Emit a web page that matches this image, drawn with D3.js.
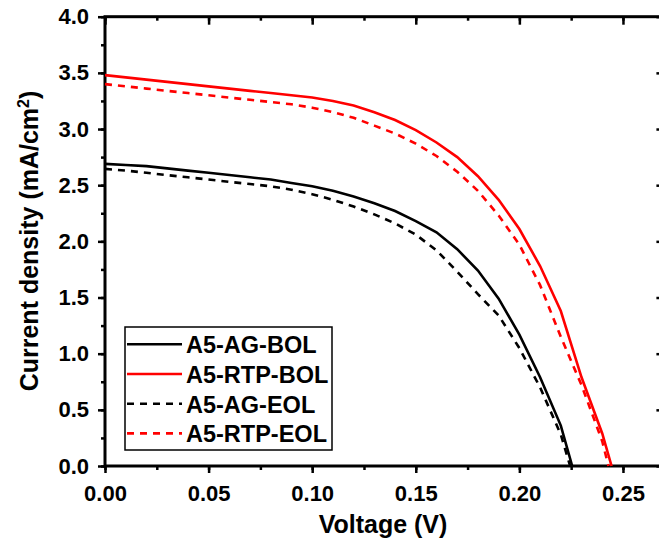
<!DOCTYPE html>
<html>
<head>
<meta charset="utf-8">
<script src="https://cdn.jsdelivr.net/npm/d3@7"></script>
<style>
  body { margin: 0; background: #fff; }
  svg { display: block; font-family: "Liberation Sans", Arial, sans-serif; font-weight: bold; }
</style>
</head>
<body>
<svg id="chart" width="659" height="548"></svg>
<script>
// voltage steps (V)
var voltage = [0, 0.01, 0.02, 0.03, 0.04, 0.05, 0.06, 0.07, 0.08, 0.09, 0.10, 0.11, 0.12,
               0.13, 0.14, 0.15, 0.16, 0.17, 0.18, 0.19, 0.20, 0.21, 0.22];

// current density (mA/cm2)
var agBol  = [2.69, 2.68, 2.67, 2.65, 2.63, 2.61, 2.59, 2.57, 2.55, 2.52, 2.49, 2.45, 2.40,
              2.34, 2.27, 2.18, 2.08, 1.93, 1.74, 1.49, 1.17, 0.79, 0.36];
var rtpBol = [3.48, 3.46, 3.44, 3.42, 3.40, 3.38, 3.36, 3.34, 3.32, 3.30, 3.28, 3.25, 3.21,
              3.15, 3.08, 2.99, 2.88, 2.75, 2.58, 2.37, 2.11, 1.78, 1.38];
var agEol  = [2.645, 2.63, 2.61, 2.59, 2.57, 2.55, 2.53, 2.51, 2.49, 2.46, 2.42, 2.37, 2.31,
              2.24, 2.16, 2.06, 1.92, 1.73, 1.53, 1.34, 1.05, 0.70, 0.28];
var rtpEol = [3.40, 3.38, 3.36, 3.34, 3.32, 3.30, 3.28, 3.26, 3.24, 3.22, 3.19, 3.15, 3.10,
              3.03, 2.96, 2.87, 2.76, 2.62, 2.45, 2.23, 1.97, 1.61, 1.15];

// tails near open circuit voltage
var agBolTail  = [[0.2255, 0]];
var rtpBolTail = [[0.23, 0.79], [0.24, 0.29], [0.2445, 0]];
var agEolTail  = [[0.2245, 0]];
var rtpEolTail = [[0.23, 0.72], [0.24, 0.22], [0.243, 0]];

var xTicks = [0, 0.05, 0.10, 0.15, 0.20, 0.25];
var yTicks = [0, 0.5, 1.0, 1.5, 2.0, 2.5, 3.0, 3.5, 4.0];

(function() {
  function pts(vals, tail) {
    return vals.map(function(v, i) { return [voltage[i], v]; }).concat(tail);
  }

  var series = [
    { name: 'A5-AG-BOL',  color: '#000', dash: null,  data: pts(agBol, agBolTail) },
    { name: 'A5-RTP-BOL', color: '#f00', dash: null,  data: pts(rtpBol, rtpBolTail) },
    { name: 'A5-AG-EOL',  color: '#000', dash: '7,6', data: pts(agEol, agEolTail) },
    { name: 'A5-RTP-EOL', color: '#f00', dash: '7,6', data: pts(rtpEol, rtpEolTail) }
  ];

  var svg = d3.select('#chart');
  var mLeft = 105, mRight = 664.4, mTop = 16.7, mBottom = 466;

  var x = d3.scaleLinear().domain([0, 0.27]).range([mLeft, mRight]);
  var y = d3.scaleLinear().domain([0, 4]).range([mBottom, mTop]);

  var minorX = d3.range(0, 0.2701, 0.025);
  var minorY = d3.range(0, 4.01, 0.25);

  function styleAxis(g) {
    g.selectAll('.domain').remove();
    g.selectAll('line').attr('stroke', '#000').attr('stroke-width', 2.5);
    g.selectAll('text').attr('fill', '#000').style('font-size', '22px').style('font-weight', 'bold');
  }

  // minor ticks
  svg.append('g').attr('transform', 'translate(0,' + mBottom + ')')
    .call(d3.axisBottom(x).tickValues(minorX).tickSize(4).tickFormat(''))
    .call(styleAxis);
  svg.append('g').attr('transform', 'translate(0,' + mTop + ')')
    .call(d3.axisBottom(x).tickValues(minorX).tickSize(4).tickFormat(''))
    .call(styleAxis);
  svg.append('g').attr('transform', 'translate(' + mLeft + ',0)')
    .call(d3.axisLeft(y).tickValues(minorY).tickSize(4).tickFormat(''))
    .call(styleAxis);
  svg.append('g').attr('transform', 'translate(' + mRight + ',0)')
    .call(d3.axisLeft(y).tickValues(minorY).tickSize(4).tickFormat(''))
    .call(styleAxis);

  // major ticks
  svg.append('g').attr('transform', 'translate(0,' + mBottom + ')')
    .call(d3.axisBottom(x).tickValues(xTicks).tickSize(7).tickPadding(12).tickFormat(d3.format('.2f')))
    .call(styleAxis);
  svg.append('g').attr('transform', 'translate(0,' + mTop + ')')
    .call(d3.axisBottom(x).tickValues(xTicks).tickSize(8).tickFormat(''))
    .call(styleAxis);
  svg.append('g').attr('transform', 'translate(' + mLeft + ',0)')
    .call(d3.axisLeft(y).tickValues(yTicks).tickSize(7).tickPadding(9).tickFormat(d3.format('.1f')))
    .call(styleAxis);
  svg.append('g').attr('transform', 'translate(' + mRight + ',0)')
    .call(d3.axisLeft(y).tickValues(yTicks).tickSize(8).tickFormat(''))
    .call(styleAxis);

  // frame
  svg.append('rect')
    .attr('x', mLeft).attr('y', mTop)
    .attr('width', mRight - mLeft).attr('height', mBottom - mTop)
    .attr('fill', 'none').attr('stroke', '#000').attr('stroke-width', 3);

  // curves
  var line = d3.line()
    .x(function(d) { return x(d[0]); })
    .y(function(d) { return y(d[1]); });

  var plot = svg.append('g');
  series.forEach(function(s) {
    plot.append('path')
      .datum(s.data)
      .attr('d', line)
      .attr('fill', 'none')
      .attr('stroke', s.color)
      .attr('stroke-width', 2.6)
      .attr('stroke-dasharray', s.dash);
  });

  // axis titles
  svg.append('text')
    .attr('x', 383).attr('y', 533)
    .attr('text-anchor', 'middle')
    .style('font-size', '25px')
    .text('Voltage (V)');

  var yt = svg.append('text')
    .attr('transform', 'translate(38,241) rotate(-90)')
    .attr('text-anchor', 'middle')
    .style('font-size', '25px');
  yt.append('tspan').text('Current density (mA/cm');
  yt.append('tspan').attr('dy', -9).style('font-size', '16px').text('2');
  yt.append('tspan').attr('dy', 9).text(')');

  // legend
  var lg = svg.append('g');
  lg.append('rect')
    .attr('x', 125).attr('y', 327)
    .attr('width', 207).attr('height', 123)
    .attr('fill', '#fff').attr('stroke', '#000').attr('stroke-width', 1.5);

  series.forEach(function(s, i) {
    var ly = 344.3 + i * 29.7;
    lg.append('line')
      .attr('x1', 127).attr('x2', 182)
      .attr('y1', ly).attr('y2', ly)
      .attr('stroke', s.color)
      .attr('stroke-width', 2.6)
      .attr('stroke-dasharray', s.dash);
    lg.append('text')
      .attr('x', 186).attr('y', ly + 9)
      .style('font-size', '23.5px')
      .text(s.name);
  });
})();
</script>
</body>
</html>
